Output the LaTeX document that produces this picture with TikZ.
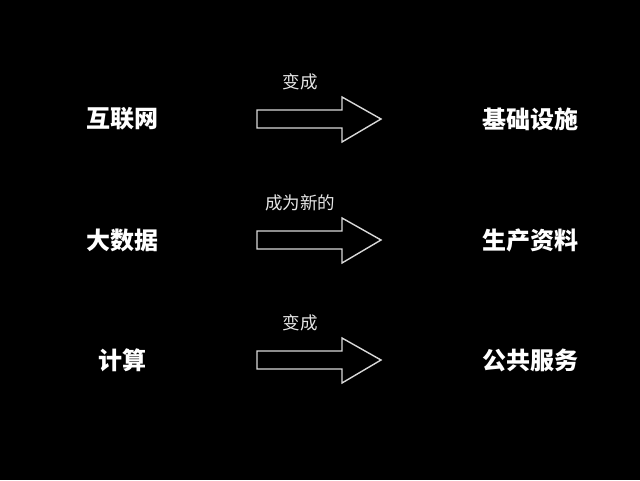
\documentclass[tikz,border=0pt]{standalone}
\usepackage{fontspec}
\newfontfamily\cjk{Noto Sans CJK SC}
\begin{document}
\begin{tikzpicture}[x=1pt,y=-1pt,
 big/.style={text=white,font=\cjk\bfseries\fontsize{24}{28}\selectfont},
 small/.style={text=white!90!black,font=\cjk\fontsize{17.5}{20}\selectfont},
 arr/.style={draw=white!85!black,line width=1.4pt,line join=miter}]
\fill[black] (0,0) rectangle (640,480);
\useasboundingbox (0,0) rectangle (640,480);
\foreach \y/\l/\m/\r/\n in {119/互联网/变成/基础设施/a,240/大数据/成为新的/生产资料/b,360/计算/变成/公共服务/c}{
 \node[big] (l\n) at (122,\y) {\l};
 \node[big] (r\n) at (530,\y) {\r};
 \node[small] (m\n) at (300,\y-37) {\m};
 \draw[arr] (257,\y-9) -- (342,\y-9) -- (342,\y-22) -- (381,\y) -- (342,\y+23) -- (342,\y+9) -- (257,\y+9) -- cycle;
}
\end{tikzpicture}
\end{document}
